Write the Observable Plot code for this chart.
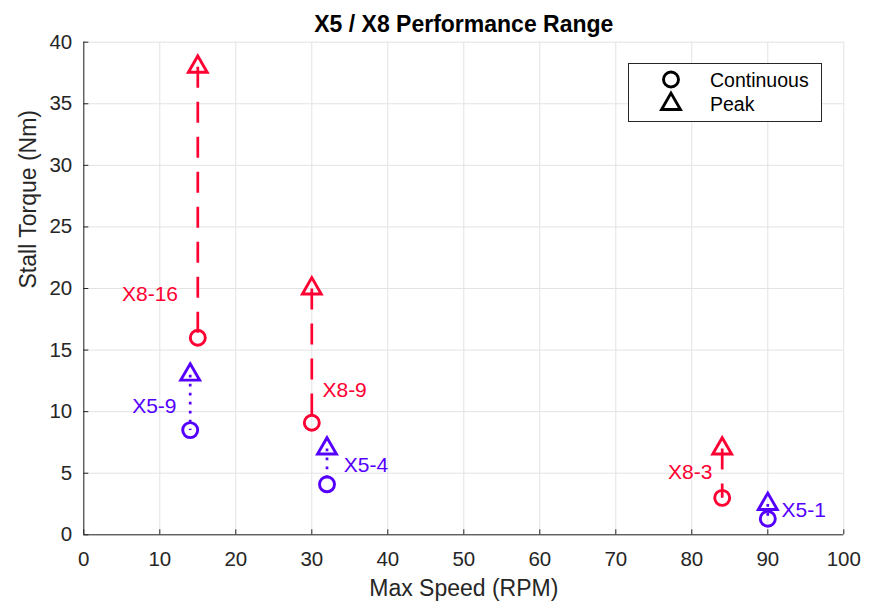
<!DOCTYPE html>
<html>
<head>
<meta charset="utf-8">
<script src="https://cdn.jsdelivr.net/npm/d3@7"></script>
<script src="https://cdn.jsdelivr.net/npm/@observablehq/plot@0.6"></script>
<style>
  html, body { margin: 0; padding: 0; background: #fff; }
  #wrap { position: relative; width: 880px; height: 608px; font-family: "Liberation Sans", Arial, Helvetica, sans-serif; }
  #legend { position: absolute; left: 628px; top: 63px; }
</style>
</head>
<body>
<div id="wrap"></div>
<script>
// ---- data ----
const motors = ["X8-16", "X8-9", "X8-3", "X5-9", "X5-4", "X5-1"];
const family = ["X8", "X8", "X8", "X5", "X5", "X5"];
const maxSpeed = [15, 30, 84, 14, 32, 90];             // RPM
const continuousTorque = [16, 9.1, 3, 8.5, 4.1, 1.3];  // Nm
const peakTorque = [38, 20, 7, 13, 7, 2.5];            // Nm
// annotation anchor points (data units)
const labelSpeed = [12.4, 31.4, 82.7, 12.2, 34.2, 91.8];
const labelTorque = [19.55, 11.7, 5.05, 10.47, 5.68, 1.97];
const labelSide = ["end", "start", "end", "end", "start", "start"];

const seriesNames = ["X8", "X5"];
const seriesColors = ["#ff0033", "#5500ff"];
const xTicks = [0, 10, 20, 30, 40, 50, 60, 70, 80, 90, 100];
const yTicks = [0, 5, 10, 15, 20, 25, 30, 35, 40];
const legendLabels = ["Continuous", "Peak"];

const rows = motors.map((m, i) => ({
  name: m, family: family[i], speed: maxSpeed[i],
  cont: continuousTorque[i], peak: peakTorque[i],
  lx: labelSpeed[i], ly: labelTorque[i], side: labelSide[i]
}));

const F = '"Liberation Sans", Arial, Helvetica, sans-serif';
const ink = "#262626";
const SW = 2.9;

const chart = Plot.plot({
  width: 880, height: 608,
  marginLeft: 83.3, marginRight: 36.7, marginTop: 41.7, marginBottom: 73.7,
  style: { fontFamily: F, fontSize: "20px", background: "white", overflow: "visible" },
  x: { domain: [0, 100] },
  y: { domain: [0, 40] },
  color: { domain: seriesNames, range: seriesColors },
  marks: [
    Plot.gridX(xTicks, { stroke: "#e3e3e3", strokeOpacity: 1 }),
    Plot.gridY(yTicks, { stroke: "#e3e3e3", strokeOpacity: 1 }),
    Plot.ruleX([0], { stroke: ink }),
    Plot.ruleY([0], { stroke: ink }),
    Plot.axisX(xTicks, { tickSize: -5, tickPadding: 22, fontSize: 20.5, color: ink, label: null }),
    Plot.axisY(yTicks, { tickSize: -5, tickPadding: 16.6, fontSize: 20.5, color: ink, label: null }),
    Plot.dot(rows, { x: "speed", y: "cont", r: 7.5, symbol: "circle", stroke: "family", fill: "none", strokeWidth: SW }),
    Plot.dot(rows, { x: "speed", y: "peak", r: 7, symbol: "triangle", stroke: "family", fill: "none", strokeWidth: SW }),
    Plot.link(rows.filter(d => d.family === "X8"), {
      x1: "speed", y1: "peak", x2: "speed", y2: "cont", stroke: "family",
      strokeWidth: 2.7, strokeDasharray: "21,14"
    }),
    Plot.link(rows.filter(d => d.family === "X5"), {
      x1: "speed", y1: "peak", x2: "speed", y2: "cont", stroke: "family",
      strokeWidth: 2.7, strokeDasharray: "2.7,6.3"
    }),
    Plot.text(rows.filter(d => d.side === "end"), {
      x: "lx", y: "ly", text: "name", fill: "family", textAnchor: "end",
      lineAnchor: "middle", fontSize: 21
    }),
    Plot.text(rows.filter(d => d.side === "start"), {
      x: "lx", y: "ly", text: "name", fill: "family", textAnchor: "start",
      lineAnchor: "middle", fontSize: 21
    }),
    Plot.text(["X5 / X8 Performance Range"], {
      frameAnchor: "top", dy: -18, lineAnchor: "middle", fontSize: 23,
      fontWeight: "bold", fill: "#000"
    }),
    Plot.text(["Max Speed (RPM)"], {
      frameAnchor: "bottom", dy: 54, lineAnchor: "middle", fontSize: 23, fill: ink
    }),
    Plot.text(["Stall Torque (Nm)"], {
      frameAnchor: "left", dx: -55, rotate: -90, lineAnchor: "middle", fontSize: 23, fill: ink
    })
  ]
});

const wrap = document.getElementById("wrap");
wrap.appendChild(chart);

// ---- legend (HTML overlay with real text) ----
const lw = 194, lh = 59;
const leg = d3.create("svg").attr("id", "legend").attr("width", lw).attr("height", lh)
  .style("font-family", F);
leg.append("rect").attr("x", 0.5).attr("y", 0.5).attr("width", lw - 1).attr("height", lh - 1)
  .attr("fill", "#fff").attr("stroke", ink).attr("stroke-width", 1);
leg.append("circle").attr("cx", 43).attr("cy", 16.5).attr("r", 7.5)
  .attr("fill", "none").attr("stroke", "#000").attr("stroke-width", SW);
leg.append("path").attr("transform", "translate(43,41)")
  .attr("d", d3.symbol(d3.symbolTriangle, Math.PI * 49)())
  .attr("fill", "none").attr("stroke", "#000").attr("stroke-width", SW);
legendLabels.forEach((t, i) => {
  leg.append("text").attr("x", 82).attr("y", 18.5 + i * 24.5)
    .attr("dominant-baseline", "middle").attr("font-size", 19.5).attr("fill", "#000").text(t);
});
wrap.appendChild(leg.node());
</script>
</body>
</html>
